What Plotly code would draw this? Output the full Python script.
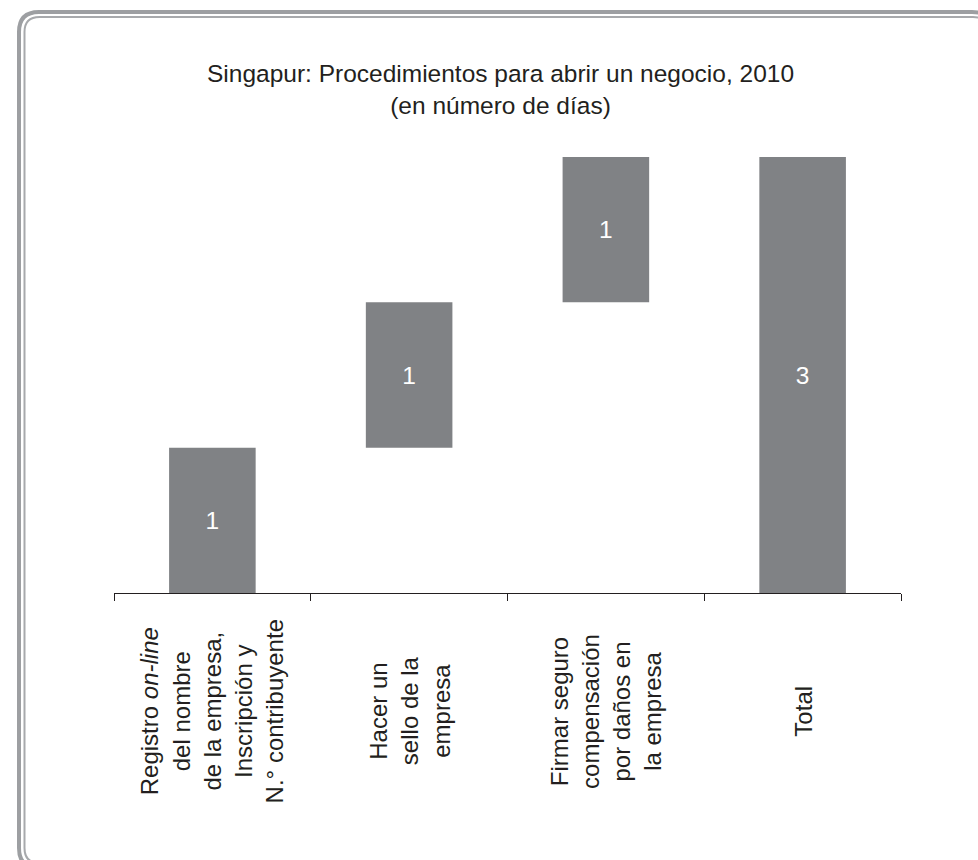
import plotly.graph_objects as go

# ---- data ----
categories = [
    "Registro <i>on-line</i><br>del nombre<br>de la empresa,<br>Inscripción y<br>N.° contribuyente",
    "Hacer un<br>sello de la<br>empresa",
    "Firmar seguro<br>compensación<br>por daños en<br>la empresa",
    "Total",
]
values = [1, 1, 1, 3]
measures = ["relative", "relative", "relative", "total"]
bar_labels = ["1", "1", "1", "3"]
title_text = "Singapur: Procedimientos para abrir un negocio, 2010<br>(en número de días)"

# ---- layout geometry (pixels) ----
W, H = 978, 860
PL, PR, PT, PB = 114, 901, 157, 593
FONT = "Liberation Sans, Arial, sans-serif"
TXT = "#231f20"
BAR = "#808285"


def px(x):
    return (x - PL) / (PR - PL)


def py(y):
    return (PB - y) / (PB - PT)


def rounded_path(x0, y0, x1, y1, r):
    # pixel coords -> paper coords
    pts = [
        f"M {px(x0)},{py(y0 + r)}",
        f"Q {px(x0)},{py(y0)} {px(x0 + r)},{py(y0)}",
        f"L {px(x1 - r)},{py(y0)}",
        f"Q {px(x1)},{py(y0)} {px(x1)},{py(y0 + r)}",
        f"L {px(x1)},{py(y1 - r)}",
        f"Q {px(x1)},{py(y1)} {px(x1 - r)},{py(y1)}",
        f"L {px(x0 + r)},{py(y1)}",
        f"Q {px(x0)},{py(y1)} {px(x0)},{py(y1 - r)}",
        "Z",
    ]
    return " ".join(pts)


fig = go.Figure(
    go.Waterfall(
        x=categories,
        y=values,
        measure=measures,
        text=bar_labels,
        textinfo="text",
        textposition="inside",
        insidetextanchor="middle",
        textfont=dict(color="white", size=24.5, family=FONT),
        increasing=dict(marker=dict(color=BAR)),
        decreasing=dict(marker=dict(color=BAR)),
        totals=dict(marker=dict(color=BAR)),
        connector=dict(visible=False),
        hoverinfo="skip",
    )
)

annotations = [
    dict(
        text=title_text,
        x=px(500), y=py(89), xref="paper", yref="paper",
        xanchor="center", yanchor="middle",
        showarrow=False, font=dict(size=24.5, family=FONT, color=TXT),
        align="center",
    )
]
for c in categories:
    annotations.append(
        dict(
            text=c, x=c, xref="x", y=py(711), yref="paper",
            textangle=-90, xanchor="center", yanchor="middle",
            showarrow=False, align="center",
            font=dict(size=24, family=FONT, color=TXT),
        )
    )

fig.update_layout(
    width=W, height=H,
    margin=dict(l=PL, r=W - PR, t=PT, b=H - PB, pad=0),
    paper_bgcolor="white", plot_bgcolor="white",
    showlegend=False,
    waterfallgap=0.56,
    font=dict(family=FONT, color=TXT),
    xaxis=dict(
        type="category", showline=True, linecolor=TXT, linewidth=1,
        ticks="outside", tickson="boundaries", ticklen=7, tickcolor=TXT,
        showticklabels=False, showgrid=False, zeroline=False,
    ),
    yaxis=dict(range=[0, 3], visible=False, showgrid=False),
    annotations=annotations,
    shapes=[
        dict(type="path", path=rounded_path(19, 12, 992, 868, 20),
             xref="paper", yref="paper", line=dict(color="#9d9fa2", width=4),
             layer="below"),
        dict(type="path", path=rounded_path(24.5, 17, 988, 863, 15),
             xref="paper", yref="paper", line=dict(color="#a7a9ac", width=2),
             layer="below"),
    ],
)

fig.write_html("out.html")
